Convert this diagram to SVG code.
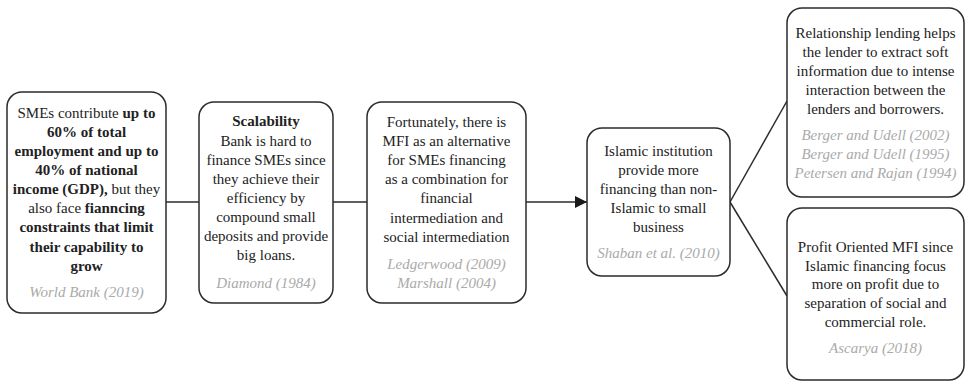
<svg xmlns="http://www.w3.org/2000/svg" width="965" height="382" viewBox="0 0 965 382" font-family="'Liberation Serif', 'Times New Roman', serif">
<style>
.box{fill:#fff;stroke:#2b2b2b;stroke-width:1.5}
text{font-family:'Liberation Serif','Times New Roman',serif;font-size:15px;fill:#222;text-anchor:middle}
.b{font-weight:bold}
.c{fill:#aaa;font-style:italic}
.edge{stroke:#2b2b2b;stroke-width:1.5;fill:none}
</style>
<defs>
<marker id="arr" viewBox="0 0 12 12" refX="12" refY="6" markerWidth="12" markerHeight="12" markerUnits="userSpaceOnUse" orient="auto">
<path d="M0,0 L12,6 L0,12 Z" fill="#1a1a1a"/>
</marker>
</defs>
<rect width="965" height="382" fill="#fff"/>
<g id="connectors">
<line class="edge" x1="166" y1="202" x2="199" y2="202"/>
<line class="edge" x1="333" y1="202" x2="367" y2="202"/>
<line class="edge" x1="526" y1="202" x2="587" y2="202" marker-end="url(#arr)"/>
<line class="edge" x1="730" y1="202" x2="787" y2="101"/>
<line class="edge" x1="730" y1="202" x2="787" y2="296"/>
</g>
<g id="n1">
<rect class="box" x="7" y="92" width="159" height="221" rx="15"/>
<text x="86.5" y="118">SMEs contribute <tspan class="b">up to</tspan></text>
<text x="86.5" y="137" class="b">60% of total</text>
<text x="86.5" y="156.3" class="b">employment and up to</text>
<text x="86.5" y="175" class="b">40% of national</text>
<text x="86.5" y="194.3"><tspan class="b">income (GDP),</tspan> but they</text>
<text x="86.5" y="213.3">also face <tspan class="b">fianncing</tspan></text>
<text x="86.5" y="232.3" class="b">constraints that limit</text>
<text x="86.5" y="251.7" class="b">their capability to</text>
<text x="86.5" y="270.7" class="b">grow</text>
<text x="86.5" y="296.7" class="c">World Bank (2019)</text>
</g>
<g id="n2">
<rect class="box" x="199" y="102" width="134" height="201" rx="15"/>
<text x="266" y="125.7" class="b">Scalability</text>
<text x="266" y="145.7">Bank is hard to</text>
<text x="266" y="165">finance SMEs since</text>
<text x="266" y="184">they achieve their</text>
<text x="266" y="202.7">efficiency by</text>
<text x="266" y="221.7">compound small</text>
<text x="266" y="241">deposits and provide</text>
<text x="266" y="260">big loans.</text>
<text x="266" y="288.3" class="c">Diamond (1984)</text>
</g>
<g id="n3">
<rect class="box" x="367" y="102" width="159" height="201" rx="15"/>
<text x="446.5" y="126.7">Fortunately, there is</text>
<text x="446.5" y="145.7">MFI as an alternative</text>
<text x="446.5" y="165">for SMEs financing</text>
<text x="446.5" y="184.3">as a combination for</text>
<text x="446.5" y="203.3">financial</text>
<text x="446.5" y="222.7">intermediation and</text>
<text x="446.5" y="241.7">social intermediation</text>
<text x="446.5" y="269" class="c">Ledgerwood (2009)</text>
<text x="446.5" y="288.3" class="c">Marshall (2004)</text>
</g>
<g id="n4">
<rect class="box" x="587" y="128" width="143" height="148" rx="15"/>
<text x="658.5" y="156">Islamic institution</text>
<text x="658.5" y="175">provide more</text>
<text x="658.5" y="194">financing than non-</text>
<text x="658.5" y="213.3">Islamic to small</text>
<text x="658.5" y="231.7">business</text>
<text x="658.5" y="257.7" class="c">Shaban et al. (2010)</text>
</g>
<g id="n5">
<rect class="box" x="787" y="8" width="177" height="189" rx="15"/>
<text x="875.5" y="37.7">Relationship lending helps</text>
<text x="875.5" y="56.7">the lender to extract soft</text>
<text x="875.5" y="76">information due to intense</text>
<text x="875.5" y="95">interaction between the</text>
<text x="875.5" y="114">lenders and borrowers.</text>
<text x="875.5" y="140" class="c">Berger and Udell (2002)</text>
<text x="875.5" y="159.3" class="c">Berger and Udell (1995)</text>
<text x="875.5" y="178.3" class="c">Petersen and Rajan (1994)</text>
</g>
<g id="n6">
<rect class="box" x="787" y="208" width="177" height="172" rx="15"/>
<text x="875.5" y="251.7">Profit Oriented MFI since</text>
<text x="875.5" y="270.7">Islamic financing focus</text>
<text x="875.5" y="289.3">more on profit due to</text>
<text x="875.5" y="308.3">separation of social and</text>
<text x="875.5" y="327.3">commercial role.</text>
<text x="875.5" y="353.3" class="c">Ascarya (2018)</text>
</g>
</svg>
